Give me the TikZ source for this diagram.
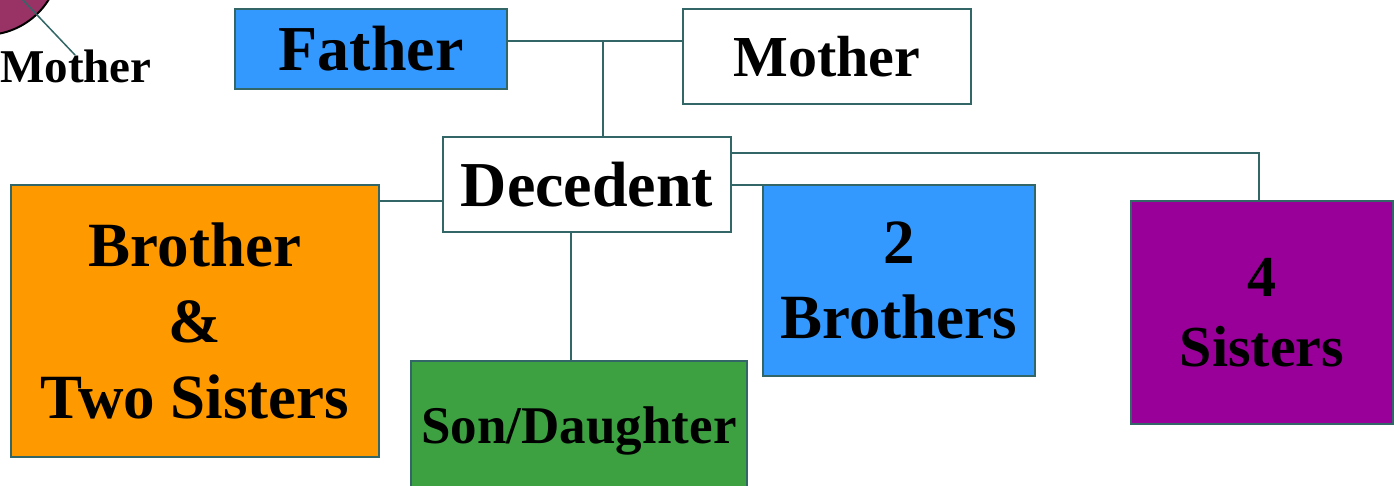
\documentclass[tikz,border=0pt]{standalone}
\usepackage{fontspec}
\setmainfont{Liberation Serif}
\definecolor{linkteal}{HTML}{336666}
\definecolor{boxblue}{HTML}{3399FF}
\definecolor{boxorange}{HTML}{FF9900}
\definecolor{boxpurple}{HTML}{990099}
\definecolor{boxgreen}{HTML}{3DA142}
\definecolor{discmaroon}{HTML}{993366}
\newcommand{\fs}[1]{\fontsize{#1}{1.2\dimexpr#1pt\relax}\selectfont\bfseries}
\begin{document}
\begin{tikzpicture}[x=1pt,y=-1pt,
  famb/.style={draw=linkteal,line width=2pt,inner sep=0pt,align=center,rectangle},
  link/.style={draw=linkteal,line width=2pt}]
\useasboundingbox (0,0) rectangle (1394,486);
\clip (0,0) rectangle (1394,486);
\fill[white] (0,0) rectangle (1394,486);

% disc in the corner with its pointer to the label
\node[circle,draw=black,line width=2pt,fill=discmaroon,minimum size=150pt,inner sep=0pt] (disc) at (-15,-40) {};
\node[font=\fs{47}] (mlabel) at (76,66) {Mother};
\coordinate (mtip) at (75,55);
\draw[link,line width=1.5pt] (disc.center) -- (mtip);

% family boxes
\node[famb,fill=boxblue,minimum width=272pt,minimum height=80pt,font=\fs{64}] (father) at (371,49) {Father};
\node[famb,fill=white,minimum width=288pt,minimum height=95pt,font=\fs{58}] (mother) at (827,56.5) {Mother};
\node[famb,fill=white,minimum width=288pt,minimum height=95pt,font=\fs{64}] (dec) at (587,184.5) {Decedent};
\node[famb,fill=boxorange,minimum width=368pt,minimum height=272pt,font=\fs{63}] (bro) at (195,321) {Brother\\\&\\Two Sisters};
\node[famb,fill=boxblue,minimum width=272pt,minimum height=191pt,font=\fs{63}] (bros) at (899,280.5) {2\\Brothers};
\node[famb,fill=boxpurple,minimum width=262pt,minimum height=223pt,font=\fs{58}] (sis) at (1262,312.5) {4\\Sisters};
\node[famb,fill=boxgreen,minimum width=336pt,minimum height=139pt,font=\fs{53}] (son) at (579,430.5) {Son/Daughter};

% connector levels
\coordinate (j1) at (603,41);
\coordinate (j2) at (0,201);
\coordinate (j3) at (571,0);
\coordinate (j4) at (1259,153);
\coordinate (j5) at (0,185);

\draw[link] (father.east |- j1) -- (mother.west |- j1);
\draw[link] (j1) -- (dec.north -| j1);
\draw[link] (bro.east |- j2) -- (dec.west |- j2);
\draw[link] (dec.south -| j3) -- (son.north -| j3);
\draw[link] (dec.east |- j4) -- (j4) -- (sis.north -| j4);
\draw[link] (dec.east |- j5) -- (bros.west |- j5);
\end{tikzpicture}
\end{document}
